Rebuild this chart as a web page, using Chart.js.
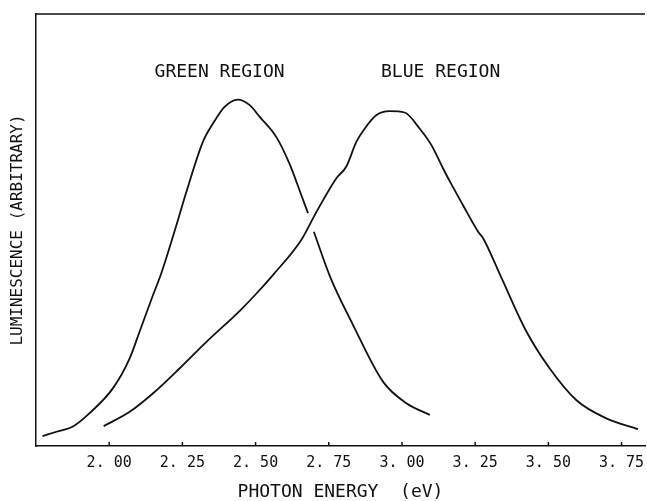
<!DOCTYPE html>
<html>
<head>
<meta charset="utf-8">
<title>Luminescence</title>
<script src="https://cdn.jsdelivr.net/npm/chart.js@4.4.0/dist/chart.umd.min.js"></script>
<style>
  html, body { margin: 0; padding: 0; background: #fff; }
  canvas { display: block; }
</style>
</head>
<body>
<canvas id="grafico" width="647" height="501"></canvas>
<script>
// Dados (energia do fóton em eV, luminescência arbitrária 0-100)
const greenEnergy = [1.772, 1.820, 1.876, 1.933, 2.013, 2.070, 2.104, 2.150, 2.178, 2.230, 2.264, 2.320, 2.355, 2.394, 2.439, 2.480, 2.514, 2.571, 2.616, 2.656, 2.679, 2.690, 2.699, 2.755, 2.833, 2.935, 3.015, 3.095];
const greenLum    = [2.3,   3.3,   4.5,   7.6,   13.4,  20.3,  26.5,  35.0,  40.0,  51.2,  58.9,  70.4,  74.7,  78.5,  80.2,  78.9,  76.2,  71.5,  65.3,  58.1,  53.9,  null,  49.6,  39.1,  28.0,  14.9,  9.9,   7.2];

const blueEnergy = [1.981, 2.070, 2.150, 2.241, 2.332, 2.446, 2.503, 2.562, 2.656, 2.708, 2.776, 2.810, 2.844, 2.873, 2.913, 2.958, 3.009, 3.060, 3.100, 3.140, 3.163, 3.208, 3.260, 3.277, 3.334, 3.425, 3.504, 3.596, 3.698, 3.806];
const blueLum    = [4.6,   7.9,   12.2,  18.0,  24.1,  31.3,  35.3,  39.8,  47.7,  54.2,  62.0,  64.7,  70.4,  73.5,  76.6,  77.5,  77.2,  73.5,  69.7,  64.3,  61.3,  55.8,  49.6,  48.1,  39.8,  26.5,  18.0,  10.6,  6.4,   3.9];

const tickValues = [2.00, 2.25, 2.50, 2.75, 3.00, 3.25, 3.50, 3.75];

// rótulos das regiões dentro do gráfico
const regionNames  = ['GREEN REGION', 'BLUE REGION'];
const regionEnergy = [2.377, 3.132];
const regionLum    = [86.6, 86.6];

const INK = '#111';

// moldura superior, marcas internas do eixo x e rótulos das regiões
const molduraPlugin = {
    id: 'moldura',
    afterDraw(chart) {
        const { ctx, chartArea, scales } = chart;
        ctx.save();
        ctx.strokeStyle = INK;
        ctx.lineWidth = 1.5;
        ctx.beginPath();
        ctx.moveTo(chartArea.left, chartArea.top);
        ctx.lineTo(chartArea.right, chartArea.top);
        tickValues.forEach(v => {
            const px = scales.x.getPixelForValue(v);
            ctx.moveTo(px, chartArea.bottom);
            ctx.lineTo(px, chartArea.bottom - 4);
        });
        ctx.stroke();

        ctx.font = '18px "DejaVu Sans Mono"';
        ctx.fillStyle = INK;
        ctx.textAlign = 'center';
        ctx.textBaseline = 'middle';
        regionNames.forEach((nome, i) => {
            ctx.fillText(nome, scales.x.getPixelForValue(regionEnergy[i]), scales.y.getPixelForValue(regionLum[i]));
        });
        ctx.restore();
    }
};

const toPoints = (xs, ys) => xs.map((x, i) => ({ x: x, y: ys[i] }));

new Chart(document.getElementById('grafico'), {
    type: 'scatter',
    data: {
        datasets: [
            {
                label: 'Green',
                data: toPoints(greenEnergy, greenLum),
                showLine: true,
                spanGaps: false,
                borderColor: INK,
                borderWidth: 1.8,
                pointRadius: 0,
                cubicInterpolationMode: 'monotone'
            },
            {
                label: 'Blue',
                data: toPoints(blueEnergy, blueLum),
                showLine: true,
                borderColor: INK,
                borderWidth: 1.8,
                pointRadius: 0,
                cubicInterpolationMode: 'monotone'
            }
        ]
    },
    options: {
        responsive: false,
        animation: false,
        layout: { padding: { top: 14, right: 2, left: 0, bottom: 0 } },
        plugins: {
            legend: { display: false },
            tooltip: { enabled: false }
        },
        scales: {
            x: {
                type: 'linear',
                min: 1.75,
                max: 3.83,
                afterBuildTicks: axis => { axis.ticks = tickValues.map(v => ({ value: v })); },
                afterFit: axis => {
                    axis.height = 55;
                    axis.paddingLeft = 0;
                    axis.paddingRight = 0;
                },
                grid: { display: true, drawOnChartArea: false, drawTicks: false },
                border: { display: true, color: INK, width: 1.5 },
                ticks: {
                    autoSkip: false,
                    maxRotation: 0,
                    padding: 8,
                    color: INK,
                    font: { family: 'DejaVu Sans Mono', size: 15 },
                    callback: value => value.toFixed(2).replace('.', '. ')
                },
                title: {
                    display: true,
                    text: 'PHOTON ENERGY  (eV)',
                    color: INK,
                    padding: { top: 0, bottom: -2 },
                    font: { family: 'DejaVu Sans Mono', size: 18 }
                }
            },
            y: {
                min: 0,
                max: 100,
                afterFit: axis => {
                    axis.width = 36;
                    axis.paddingTop = 0;
                    axis.paddingBottom = 0;
                },
                grid: { display: true, drawOnChartArea: false, drawTicks: false },
                border: { display: true, color: INK, width: 1.5 },
                ticks: { display: false },
                title: {
                    display: true,
                    text: 'LUMINESCENCE (ARBITRARY)',
                    color: INK,
                    padding: { top: 8, bottom: 0 },
                    font: { family: 'DejaVu Sans Mono', size: 16 }
                }
            }
        }
    },
    plugins: [molduraPlugin]
});
</script>
</body>
</html>
